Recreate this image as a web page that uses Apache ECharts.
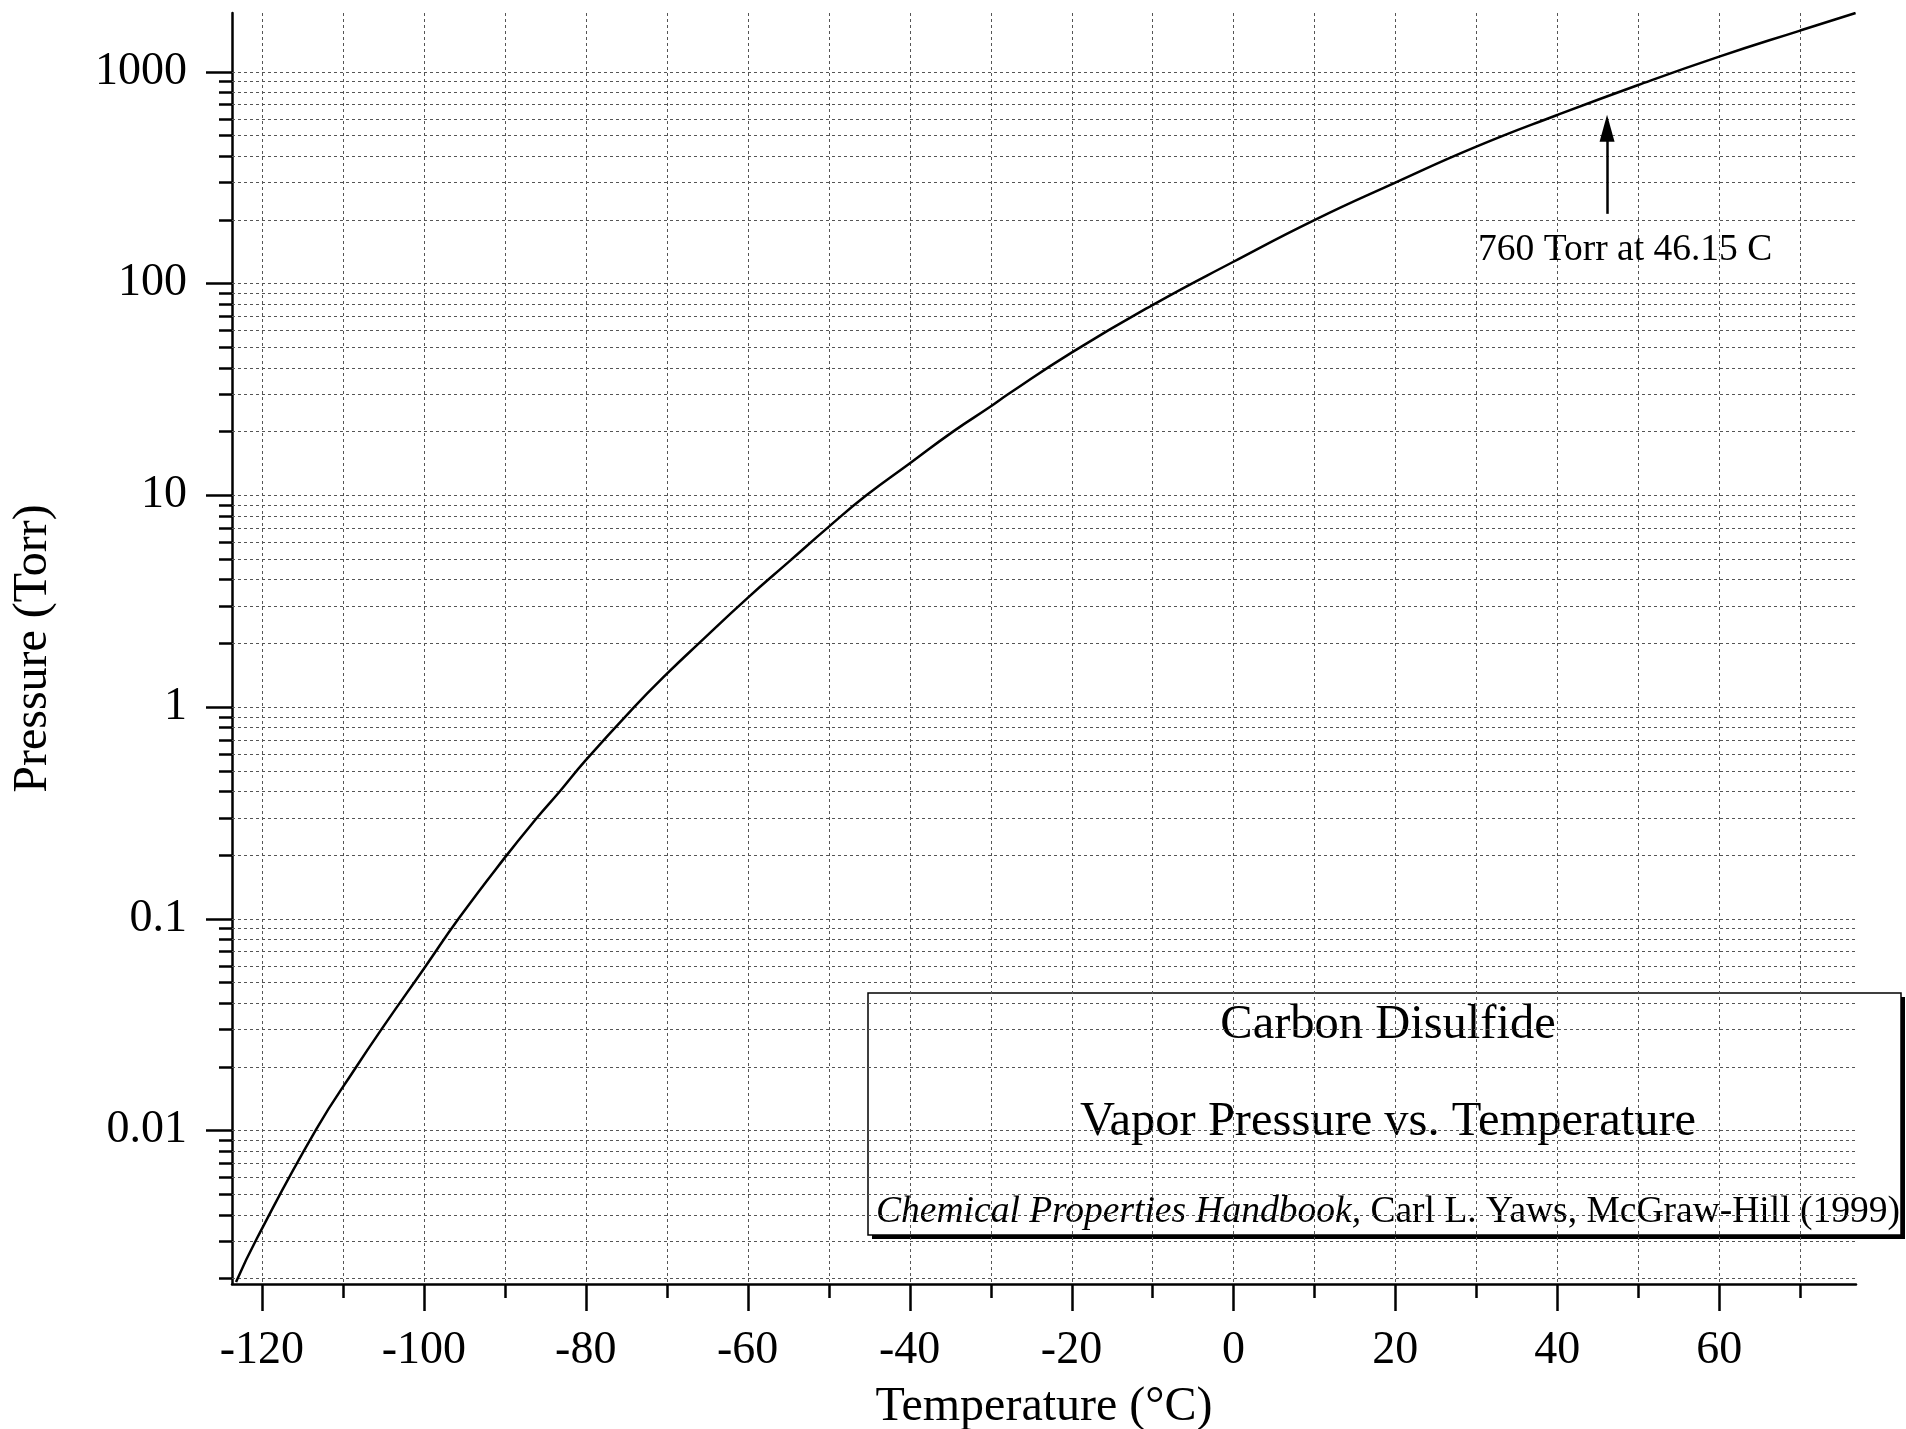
<!DOCTYPE html>
<html>
<head>
<meta charset="utf-8">
<title>Carbon Disulfide - Vapor Pressure vs. Temperature</title>
<script src="https://cdn.jsdelivr.net/npm/echarts@6/dist/echarts.min.js"></script>
<style>
  html, body { margin: 0; padding: 0; background: #fff; }
  #chart { width: 1906px; height: 1429px; }
</style>
</head>
<body>
<div id="chart"></div>
<script>
// curve (temperature in C, pressure in Torr)
const temperature = [-123.2, -120.6, -113.3, -108.4, -104.9, -100, -95.7,
  -90, -86.0, -83.3, -80, -74, -70, -66.0, -60, -54.9, -50, -45.3, -40, -34.6, -30, -27.8,
  -20, -10, 0, 10, 20, 30, 40, 50, 60, 70, 76.85];
const pressure = [0.00192, 0.0031, 0.0101, 0.0198, 0.0313, 0.058, 0.1,
  0.194, 0.3, 0.395, 0.56, 1.0, 1.43, 2, 3.27, 4.85, 7.08, 10, 14.1, 20, 26.2, 30,
  47.1, 79, 126.5, 199, 299, 442, 624, 865, 1177, 1563, 1892];

// axes
const xMin = -123.7, xMax = 76.9;
const yMin = 0.00188, yMax = 1892;
const xMajorTicks = [-120, -100, -80, -60, -40, -20, 0, 20, 40, 60];
const xTickLabels = ['-120', '-100', '-80', '-60', '-40', '-20', '0', '20', '40', '60'];
const xMinorTicks = [-110, -90, -70, -50, -30, -10, 10, 30, 50, 70];
const yMajorTicks = [0.01, 0.1, 1, 10, 100, 1000];
const yTickLabels = ['0.01', '0.1', '1', '10', '100', '1000'];
const yDecades = [0.001, 0.01, 0.1, 1, 10, 100, 1000];
const yMinorTicks = [];
yDecades.forEach(d => {
  for (let k = 2; k <= 9; k++) {
    const v = +(k * d).toPrecision(6);
    if (v > yMin && v < yMax) yMinorTicks.push(v);
  }
});

// annotation
const arrowTemp = 46.15, arrowFrom = 213, arrowTo = 540;

const FONT = '"Liberation Serif", "Times New Roman", Times, serif';
const GRID_LINE = {stroke: '#555', lineWidth: 1, lineDash: [3, 3]};

const chart = echarts.init(document.getElementById('chart'));

function yTickItem(params, api) {
  const rect = params.coordSys;
  const p = api.coord([api.value(0), api.value(1)]);
  const y = Math.round(p[1]) + 0.5;
  const len = api.value(2) ? 26 : 13;
  return {
    type: 'group',
    children: [
      {type: 'line', shape: {x1: rect.x, y1: y, x2: rect.x + rect.width, y2: y}, style: GRID_LINE},
      {type: 'line', shape: {x1: rect.x - len, y1: y, x2: rect.x, y2: y}, style: {stroke: '#000', lineWidth: 2.5}}
    ]
  };
}

// vertical grid, ticks and the temperature labels under the axis
function xTickItem(params, api) {
  const rect = params.coordSys;
  const p = api.coord([api.value(0), api.value(1)]);
  const x = Math.round(p[0]) + 0.5;
  const bottom = rect.y + rect.height;
  const major = api.value(2) === 1;
  const children = [
    {type: 'line', shape: {x1: x, y1: rect.y, x2: x, y2: bottom}, style: GRID_LINE},
    {type: 'line', shape: {x1: x, y1: bottom, x2: x, y2: bottom + (major ? 27 : 14)}, style: {stroke: '#000', lineWidth: 2.5}}
  ];
  if (major) {
    children.push({
      type: 'text',
      x: p[0], y: bottom + 67,
      style: {text: xTickLabels[params.dataIndex], fontFamily: FONT, fontSize: 46, fill: '#000', align: 'center', verticalAlign: 'middle'}
    });
  }
  return {type: 'group', children};
}

const option = {
  animation: false,
  backgroundColor: '#fff',
  grid: {left: 232, right: 50, top: 13, bottom: 145},
  xAxis: {
    type: 'value',
    min: xMin,
    max: xMax,
    axisLine: {show: true, onZero: false, lineStyle: {color: '#000', width: 2.5}},
    axisTick: {show: false},
    splitLine: {show: false},
    axisLabel: {show: false}
  },
  yAxis: {
    type: 'log',
    logBase: 10,
    min: yMin,
    max: yMax,
    name: 'Pressure (Torr)',
    nameLocation: 'middle',
    nameGap: 175,
    nameTextStyle: {fontFamily: FONT, fontSize: 48, color: '#000'},
    axisLine: {show: true, onZero: false, lineStyle: {color: '#000', width: 2.5}},
    axisTick: {show: false},
    splitLine: {show: false},
    axisLabel: {
      fontFamily: FONT, fontSize: 46, color: '#000', margin: 45,
      formatter: v => {
        const i = yMajorTicks.findIndex(t => Math.abs(t - v) / t < 1e-6);
        return i >= 0 ? yTickLabels[i] : '';
      }
    }
  },
  series: [
    {
      type: 'custom',
      name: 'y grid',
      silent: true,
      z: 1,
      dimensions: ['x', 'y', 'major'],
      encode: {x: 'x', y: 'y'},
      renderItem: yTickItem,
      data: yMajorTicks.map(v => [xMin, v, 1]).concat(yMinorTicks.map(v => [xMin, v, 0]))
    },
    {
      type: 'custom',
      name: 'x grid',
      silent: true,
      z: 1,
      dimensions: ['x', 'y', 'major'],
      encode: {x: 'x', y: 'y'},
      renderItem: xTickItem,
      data: xMajorTicks.map(v => [v, yMin, 1]).concat(xMinorTicks.map(v => [v, yMin, 0]))
    },
    {
      type: 'line',
      name: 'Vapor pressure',
      z: 3,
      data: temperature.map((t, i) => [t, pressure[i]]),
      showSymbol: false,
      smooth: 0.5,
      lineStyle: {color: '#000', width: 2.5},
      markLine: {
        silent: true,
        symbol: ['none', 'triangle'],
        symbolSize: [15, 27],
        label: {show: false},
        lineStyle: {color: '#000', width: 2.5, type: 'solid'},
        data: [[{coord: [arrowTemp, arrowFrom]}, {coord: [arrowTemp, arrowTo]}]]
      }
    }
  ],
  graphic: [
    {
      type: 'text',
      z: 50,
      x: 1044,
      y: 1407,
      style: {text: 'Temperature (°C)', fontFamily: FONT, fontSize: 48, fill: '#000', align: 'center', verticalAlign: 'middle'}
    },
    {
      type: 'text',
      z: 50,
      x: 1478,
      y: 250,
      style: {text: '760 Torr at 46.15 C', fontFamily: FONT, fontSize: 37.5, fill: '#000', align: 'left', verticalAlign: 'middle'}
    },
    {
      type: 'group',
      z: 100,
      children: [
        {
          type: 'rect',
          shape: {x: 872, y: 997, width: 1033, height: 242},
          style: {fill: '#000'}
        },
        {
          type: 'rect',
          shape: {x: 868, y: 993, width: 1033, height: 242},
          style: {fill: '#fff', stroke: '#000', lineWidth: 1.5}
        },
        {
          type: 'text', x: 1388, y: 1025,
          style: {text: 'Carbon Disulfide', fontFamily: FONT, fontSize: 48.5, fill: '#000', align: 'center', verticalAlign: 'middle'}
        },
        {
          type: 'text', x: 1388, y: 1122,
          style: {text: 'Vapor Pressure vs. Temperature', fontFamily: FONT, fontSize: 48.5, fill: '#000', align: 'center', verticalAlign: 'middle'}
        },
        {
          type: 'text', x: 1388, y: 1212,
          style: {
            text: '{i|Chemical Properties Handbook,} Carl L. Yaws, McGraw-Hill (1999)',
            fontFamily: FONT, fontSize: 37.5, fill: '#000', align: 'center', verticalAlign: 'middle',
            rich: {i: {fontFamily: FONT, fontSize: 37.5, fontStyle: 'italic', fill: '#000'}}
          }
        }
      ]
    }
  ]
};

chart.setOption(option);
</script>
</body>
</html>
